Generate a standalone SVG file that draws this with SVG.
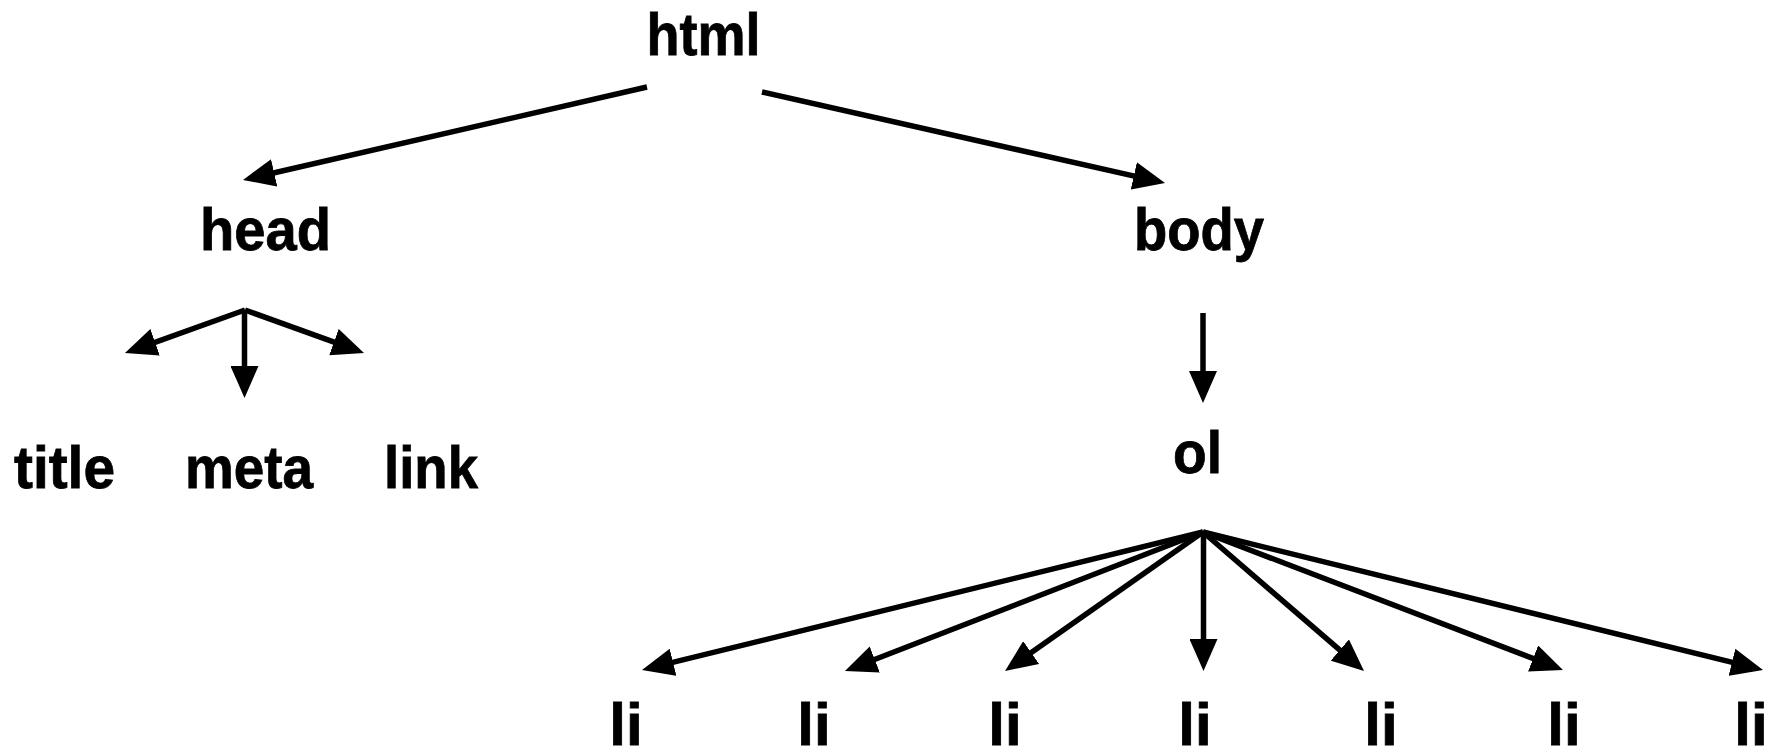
<svg xmlns="http://www.w3.org/2000/svg" width="1769" height="749" viewBox="0 0 1769 749">
<style>
.lbl{font-family:"Liberation Sans",Arial,sans-serif;font-weight:bold;font-size:60px;fill:#000;stroke:#000;stroke-width:0.8}
.c line{stroke:#000;stroke-width:5.5;fill:none;marker-end:url(#ah)}
</style>
<defs>
<marker id="ah" markerUnits="userSpaceOnUse" markerWidth="32" markerHeight="28" refX="12" refY="14" orient="auto" viewBox="0 0 32 28">
<path d="M0,0 L32,14 L0,28 z" fill="#000"/>
</marker>
</defs>
<rect width="1769" height="749" fill="#fff"/>
<g class="c" id="connectors">
<line x1="647" y1="87" x2="262.5" y2="175.5"/>
<line x1="762" y1="92" x2="1145.5" y2="178.6"/>
<line x1="245" y1="310" x2="143.8" y2="346.3"/>
<line x1="244.5" y1="310" x2="244.5" y2="378"/>
<line x1="245" y1="310" x2="345.2" y2="346.2"/>
<line x1="1203" y1="313" x2="1203" y2="383"/>
<line x1="1203" y1="532" x2="661.4" y2="665.2"/>
<line x1="1203" y1="532" x2="863.6" y2="663.8"/>
<line x1="1203" y1="532" x2="1021.4" y2="659.5"/>
<line x1="1203.5" y1="532" x2="1203.5" y2="651"/>
<line x1="1203" y1="532" x2="1348.9" y2="657.9"/>
<line x1="1203" y1="532" x2="1544.3" y2="662.8"/>
<line x1="1203" y1="532" x2="1743.6" y2="665.2"/>
</g>
<g id="html"><text class="lbl" x="646.5" y="55" textLength="114" lengthAdjust="spacingAndGlyphs">html</text></g>
<g id="head"><text class="lbl" x="200" y="250" textLength="131" lengthAdjust="spacingAndGlyphs">head</text></g>
<g id="body"><text class="lbl" x="1134" y="250" textLength="130" lengthAdjust="spacingAndGlyphs">body</text></g>
<g id="title"><text class="lbl" x="14" y="488" textLength="101" lengthAdjust="spacingAndGlyphs">title</text></g>
<g id="meta"><text class="lbl" x="185" y="488" textLength="128" lengthAdjust="spacingAndGlyphs">meta</text></g>
<g id="link"><text class="lbl" x="384" y="488" textLength="94" lengthAdjust="spacingAndGlyphs">link</text></g>
<g id="ol"><text class="lbl" x="1173" y="473" textLength="49" lengthAdjust="spacingAndGlyphs">ol</text></g>
<g id="li1"><text class="lbl" x="626" y="745" text-anchor="middle">li</text></g>
<g id="li2"><text class="lbl" x="814" y="745" text-anchor="middle">li</text></g>
<g id="li3"><text class="lbl" x="1005" y="745" text-anchor="middle">li</text></g>
<g id="li4"><text class="lbl" x="1195" y="745" text-anchor="middle">li</text></g>
<g id="li5"><text class="lbl" x="1381" y="745" text-anchor="middle">li</text></g>
<g id="li6"><text class="lbl" x="1564" y="745" text-anchor="middle">li</text></g>
<g id="li7"><text class="lbl" x="1751" y="745" text-anchor="middle">li</text></g>
</svg>
